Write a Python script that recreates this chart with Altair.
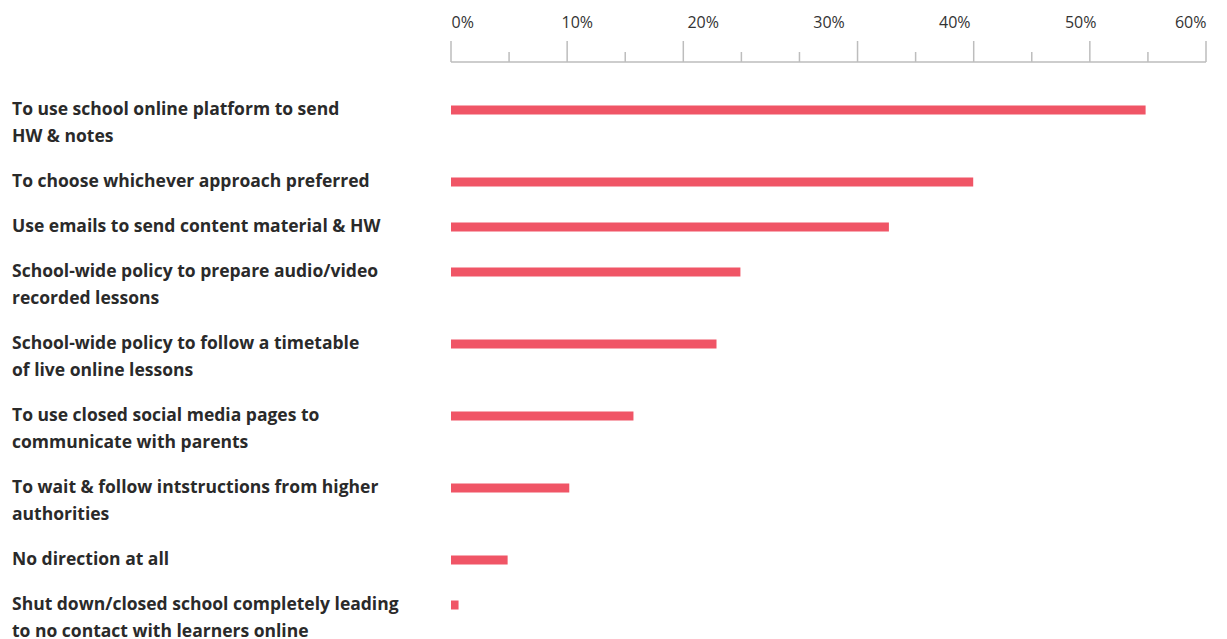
import altair as alt
import pandas as pd

labels = [
    ["To use school online platform to send", "HW & notes"],
    ["To choose whichever approach preferred"],
    ["Use emails to send content material & HW"],
    ["School-wide policy to prepare audio/video", "recorded lessons"],
    ["School-wide policy to follow a timetable", "of live online lessons"],
    ["To use closed social media pages to", "communicate with parents"],
    ["To wait & follow intstructions from higher", "authorities"],
    ["No direction at all"],
    ["Shut down/closed school completely leading", "to no contact with learners online"],
]
values = [55.2, 41.5, 34.8, 23.0, 21.1, 14.5, 9.4, 4.5, 0.6]

tick_labels = [0, 10, 20, 30, 40, 50, 60]
# custom axis ticks as drawn in the reference (14 ticks, irregular majors)
tick_index = list(range(14))
tick_major = [1, 0, 1, 0, 1, 0, 0, 1, 0, 1, 0, 1, 0, 1]

ROW = 45
EXTRA_LINE = 27

pos = []
acc = 0
for lab in labels:
    pos.append(acc)
    acc += ROW + EXTRA_LINE * (len(lab) - 1)

df = pd.DataFrame({"label": labels, "value": values, "pos": pos})
ticks = pd.DataFrame({
    "t": [i * 60 / 13 for i in tick_index],
    "major": tick_major,
})

W, H = 755, 577
x_scale = alt.Scale(domain=[0, 60], nice=False)
y_scale = alt.Scale(domain=[-48, H - 48], nice=False, zero=False, reverse=True)

FONT = "Open Sans"
base = alt.Chart(df)

bars = base.mark_rule(color="#F05566", strokeWidth=9, strokeCap="butt").encode(
    x=alt.X("value:Q", scale=x_scale,
            axis=alt.Axis(orient="top", values=tick_labels, format=".0f",
                          labelExpr="datum.value + '%'", domain=False, ticks=False,
                          grid=False, labelPadding=32, labelFontSize=16,
                          labelFont=FONT, labelFontWeight=400, labelColor="#333333",
                          title=None)),
    x2=alt.datum(0),
    y=alt.Y("pos:Q", scale=y_scale, axis=None),
)

texts = base.mark_text(align="left", baseline="middle", font=FONT, fontSize=17.5,
                       fontWeight="bold", color="#2a2a2a", lineHeight=27).encode(
    x=alt.value(-439),
    y=alt.Y("pos:Q", scale=y_scale, axis=None),
    text="label",
)

baseline = alt.Chart(pd.DataFrame({"a": [0]})).mark_rule(color="#bdbdbd", strokeWidth=1.5).encode(
    x=alt.value(0), x2=alt.value(W), y=alt.value(0)
)

major_ticks = alt.Chart(ticks).transform_filter("datum.major == 1").mark_rule(
    color="#bdbdbd", strokeWidth=1.5).encode(
    x=alt.X("t:Q", scale=x_scale),
    y=alt.value(-21),
    y2=alt.value(0),
)
minor_ticks = alt.Chart(ticks).transform_filter("datum.major == 0").mark_rule(
    color="#bdbdbd", strokeWidth=1.5).encode(
    x=alt.X("t:Q", scale=x_scale),
    y=alt.value(-10),
    y2=alt.value(0),
)

chart = alt.layer(baseline, major_ticks, minor_ticks, bars, texts).properties(
    width=W, height=H,
    padding={"left": 451, "top": 62, "right": 21, "bottom": 0},
    autosize=alt.AutoSizeParams(type="none"),
).configure_view(stroke=None)

chart.save("out.html", embed_options={"renderer": "svg", "actions": False})
